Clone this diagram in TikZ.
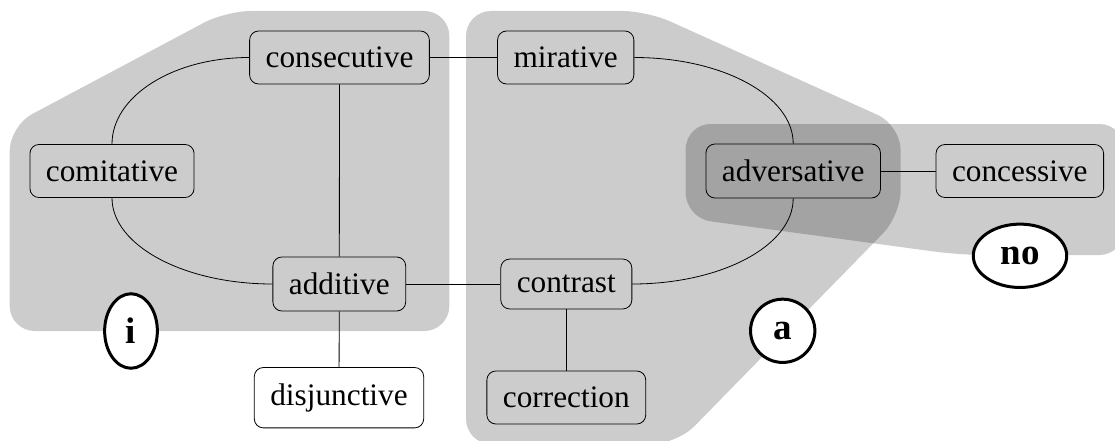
\documentclass[tikz,border=0pt]{standalone}
\usepackage{fontspec}
\setmainfont{Liberation Serif}
\usetikzlibrary{shapes.geometric}
\tikzset{
  region/.style={fill=black, fill opacity=0.2, rounded corners=25pt},
  fn/.style={draw=black, line width=0.8pt, rounded corners=9pt, inner xsep=16pt, inner ysep=16pt, font=\fontsize{31.3}{36}\selectfont},
  lab/.style={ellipse, draw=black, line width=3pt, fill=white, inner sep=13.5pt, font=\fontsize{37}{42}\selectfont\bfseries},
  conn/.style={draw=black, line width=0.8pt}
}
\begin{document}
\begin{tikzpicture}[x=1pt, y=-1pt]
\useasboundingbox (0,0) rectangle (1115,441);
% regions
\path[region] (9.7,250) -- (9.7,126) -- (226,11) -- (449.3,11) -- (449.3,331) -- (9.7,331) -- cycle;
\path[region] (466,250) -- (466,11) -- (647,11) -- (900.7,125.3) -- (900.7,215.3) -- (677,444) -- (466,444) -- cycle;
\path[region] (685.7,170) -- (685.7,124) -- (1124.3,124) -- (1124.3,255) -- (960,255) -- (685.7,218) -- cycle;
% nodes
\node[fn] (consecutive) at (339.5,57.5) {consecutive};
\node[fn] (comitative) at (112,171) {comitative};
\node[fn] (additive) at (339.3,284) {additive};
\node[fn, fill=white] (disjunctive) at (339,397.7) {disjunctive};
\node[fn] (mirative) at (565.7,57.5) {mirative};
\node[fn] (adversative) at (793.2,171) {adversative};
\node[fn] (contrast) at (566.3,284) {contrast};
\node[fn] (correction) at (566.3,397.5) {correction};
\node[fn] (concessive) at (1019.8,171) {concessive};
% connectors
\draw[conn] (consecutive) -- (mirative);
\draw[conn] (consecutive) -- (additive);
\draw[conn] (additive) -- (contrast);
\draw[conn] (additive) -- (disjunctive);
\draw[conn] (contrast) -- (correction);
\draw[conn] (adversative) -- (concessive);
\draw[conn] (consecutive.west) .. controls +(-76,0) and +(0,-48) .. (comitative.north);
\draw[conn] (comitative.south) .. controls +(0,47.5) and +(-88.7,0) .. (additive.west);
\draw[conn] (mirative.east) .. controls +(87.9,0) and +(0,-47.8) .. (adversative.north);
\draw[conn] (adversative.south) .. controls +(0,47.5) and +(88.6,0) .. (contrast.east);
% labels
\node[lab] (li) at (131,331) {i};
\node[lab] (la) at (782.7,330.8) {a};
\node[lab] (lno) at (1020,255.8) {no};
\end{tikzpicture}
\end{document}
